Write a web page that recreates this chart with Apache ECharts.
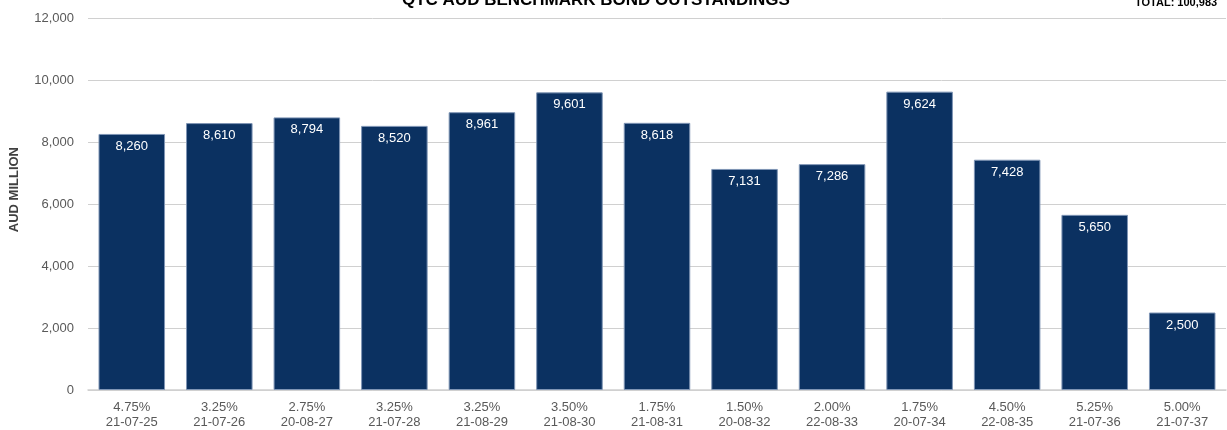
<!DOCTYPE html>
<html><head><meta charset="utf-8">
<script src="https://cdn.jsdelivr.net/npm/echarts@6/dist/echarts.min.js"></script>
<style>html,body{margin:0;padding:0;background:#fff}#c{width:1227px;height:430px}</style>
</head><body><div id="c"></div>
<script>
const coupons = ['4.75%','3.25%','2.75%','3.25%','3.25%','3.50%','1.75%','1.50%','2.00%','1.75%','4.50%','5.25%','5.00%'];
const maturities = ['21-07-25','21-07-26','20-08-27','21-07-28','21-08-29','21-08-30','21-08-31','20-08-32','22-08-33','20-07-34','22-08-35','21-07-36','21-07-37'];
const values = [8260,8610,8794,8520,8961,9601,8618,7131,7286,9624,7428,5650,2500];
const titleText = 'QTC AUD BENCHMARK BOND OUTSTANDINGS';
const totalText = 'TOTAL: 100,983';
const yTitle = 'AUD MILLION';

const categories = coupons.map((c,i)=>c+'\n'+maturities[i]);
const font = '"Liberation Sans Narrow","Arial Narrow","Liberation Sans",Arial,sans-serif';
const chart = echarts.init(document.getElementById('c'));
chart.setOption({
  animation:false,
  textStyle:{fontFamily:font},
  title:[
    {text:titleText,left:397,top:-13,textStyle:{fontFamily:'"Liberation Sans",Arial,sans-serif',fontWeight:'bold',fontSize:17,color:'#000'}},
    {text:totalText,left:1130,top:-8,textStyle:{fontFamily:'"Liberation Sans",Arial,sans-serif',fontWeight:'bold',fontSize:11,color:'#000'}}
  ],
  graphic:[{type:'text',left:8,top:147,rotation:Math.PI/2,
    style:{text:yTitle,fontWeight:'bold',fontSize:13,fill:'#404040',fontFamily:font}}],
  grid:{left:88,right:1,top:18,bottom:40},
  xAxis:{type:'category',data:categories,
    axisLine:{lineStyle:{color:'#d0d0d0',width:1.5}},axisTick:{show:false},
    axisLabel:{color:'#595959',fontSize:13,lineHeight:15,margin:10,fontFamily:font}},
  yAxis:{type:'value',min:0,max:12000,interval:2000,
    axisLine:{show:false},axisTick:{show:false},
    axisLabel:{color:'#595959',fontSize:13,margin:14,fontFamily:font,formatter:v=>v.toLocaleString('en-US')},
    splitLine:{lineStyle:{color:'#d0d0d0',width:1}}},
  series:[{type:'bar',data:values,barCategoryGap:'24%',
    itemStyle:{color:'#0b3161',borderColor:'#7f95b5',borderWidth:1},
    label:{show:true,position:'insideTop',distance:6,color:'#fff',fontSize:13,fontFamily:font,
      formatter:p=>p.value.toLocaleString('en-US')}}]
});
</script></body></html>
